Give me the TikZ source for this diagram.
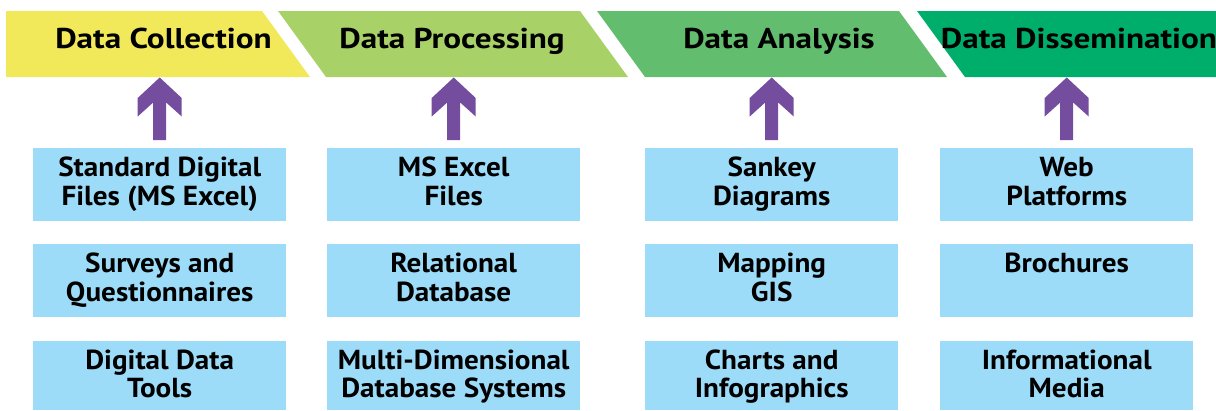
\documentclass[tikz,border=0pt]{standalone}
\usepackage{fontspec}
\setmainfont{PT Sans}
\newfontfamily\hdrfont{PT Sans Bold}[FakeStretch=1.16]
\newfontfamily\boxfont{PT Sans Bold}[FakeStretch=1.06]
\usetikzlibrary{calc}
\definecolor{cYellow}{RGB}{241,233,89}
\definecolor{cGreenA}{RGB}{168,210,104}
\definecolor{cGreenB}{RGB}{99,189,111}
\definecolor{cGreenC}{RGB}{0,174,108}
\definecolor{cBox}{RGB}{156,220,248}
\definecolor{cArrow}{RGB}{117,77,158}
\begin{document}
\begin{tikzpicture}[x=1pt,y=-1pt,
  hdrtext/.style={font=\hdrfont\fontsize{28.6}{30}\selectfont, inner sep=0, anchor=base},
  boxshape/.style={fill=cBox, draw=none, minimum width=253pt, minimum height=73pt, inner sep=0, anchor=north west},
  boxtext/.style={font=\boxfont\fontsize{27.5}{28.3}\selectfont, align=center, inner sep=0, anchor=base},
  arrowfill/.style={fill=cArrow, draw=none}
]
\useasboundingbox (0,0) rectangle (1216,410);
% header bands
\fill[cYellow] (6,11) -- (262,11) -- (310,77) -- (6,77) -- cycle;
\fill[cGreenA] (278,11) -- (580,11) -- (628,77) -- (326,77) -- cycle;
\fill[cGreenB] (597,11) -- (899,11) -- (947,77) -- (645,77) -- cycle;
\fill[cGreenC] (917,11) -- (1216,11) -- (1216,77) -- (965,77) -- cycle;
\node[hdrtext] (h1) at (163.5,48.3) {Data Collection};
\node[hdrtext] (h2) at (452,48.3) {Data Processing};
\node[hdrtext] (h3) at (779,48.3) {Data Analysis};
\node[hdrtext] (h4) at (1079,48.3) {Data Dissemination};
% boxes
\foreach \c/\x in {1/33, 2/327, 3/645, 4/940}{
  \node[boxshape] (b\c1) at (\x,148) {};
  \node[boxshape] (b\c2) at (\x,244) {};
  \node[boxshape, minimum height=69pt] (b\c3) at (\x,341) {};
}
% box texts (base anchor = baseline of the last line)
\node[boxtext] (t11) at ($(b11.north)+(0,57)$) {Standard Digital\\Files (MS Excel)};
\node[boxtext] (t12) at ($(b12.north)+(0,57)$) {Surveys and\\Questionnaires};
\node[boxtext] (t13) at ($(b13.north)+(0,56.5)$) {Digital Data\\Tools};
\node[boxtext] (t21) at ($(b21.north)+(0,57)$) {MS Excel\\Files};
\node[boxtext] (t22) at ($(b22.north)+(0,57)$) {Relational\\Database};
\node[boxtext] (t23) at ($(b23.north)+(0,56.5)$) {Multi-Dimensional\\Database Systems};
\node[boxtext] (t31) at ($(b31.north)+(0,57)$) {Sankey\\Diagrams};
\node[boxtext] (t32) at ($(b32.north)+(0,57)$) {Mapping\\GIS};
\node[boxtext] (t33) at ($(b33.north)+(0,56.5)$) {Charts and\\Infographics};
\node[boxtext] (t41) at ($(b41.north)+(0,57)$) {Web\\Platforms};
\node[boxtext] (t42) at ($(b42.north)+(0,28.7)$) {Brochures};
\node[boxtext] (t43) at ($(b43.north)+(0,56.5)$) {Informational\\Media};
% arrows from first box of each column up to the header band
\foreach \c in {1,2,3,4}{
  \coordinate (s\c) at ($(b\c1.north)+(0,-8)$);
  \coordinate (p\c) at ($(b\c1.north)+(0,-70.5)$);
  \fill[arrowfill] (p\c) -- ++(-22,20.5) -- ++(0,18.5) -- ++(15.5,-14)
     -- ($(s\c)+(-6.5,0)$) -- ($(s\c)+(6.5,0)$) -- ($(p\c)+(6.5,25)$)
     -- ++(15.5,14) -- ++(0,-18.5) -- cycle;
}
\end{tikzpicture}
\end{document}
